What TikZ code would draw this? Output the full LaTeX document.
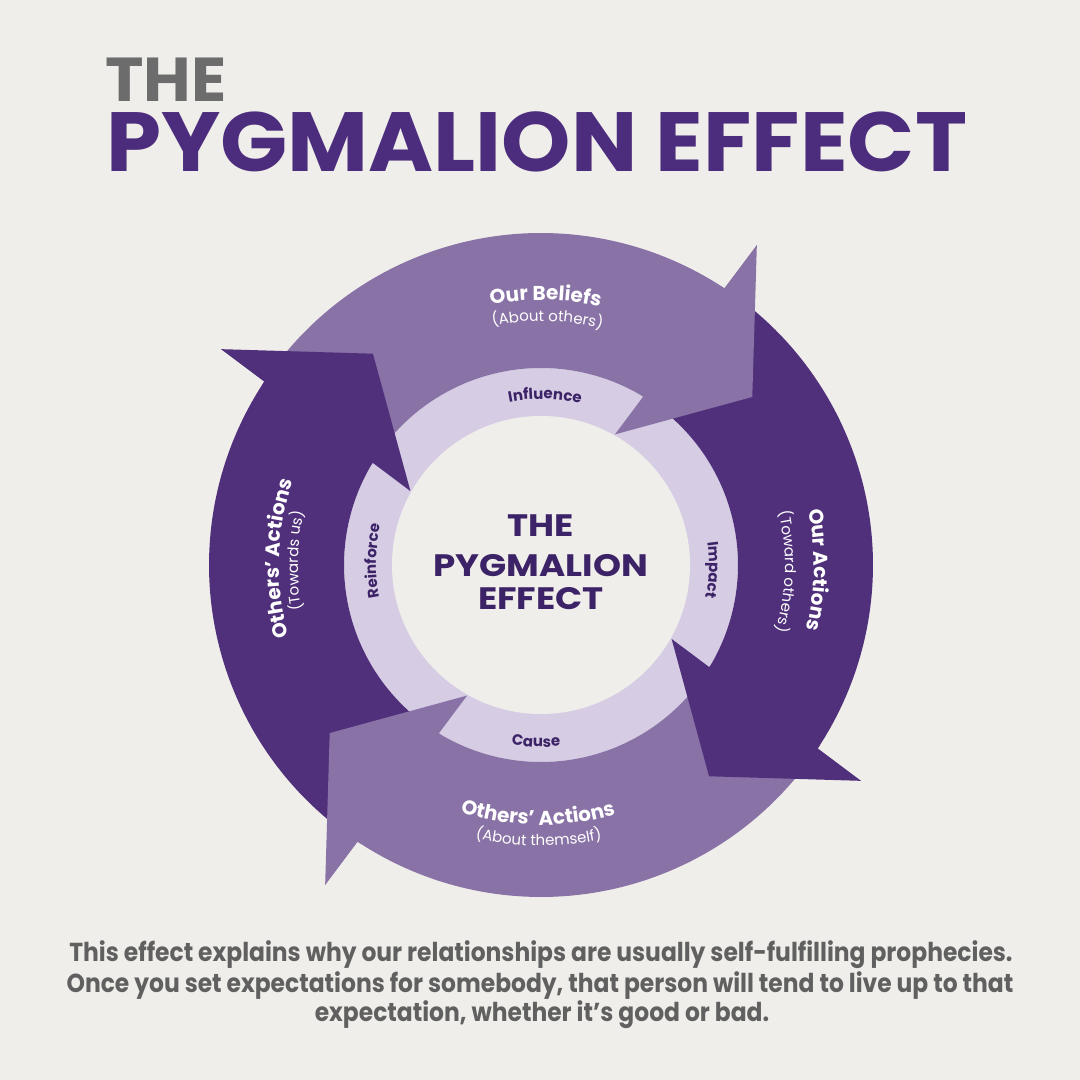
\documentclass[tikz,border=0pt]{standalone}
\usepackage{fontspec}
\setmainfont{Poppins}
\newfontfamily\bodyfont[FakeStretch=0.9]{Poppins}
\newfontfamily\headfont[FakeStretch=1.05]{Poppins}
\newfontfamily\hubfont[FakeStretch=1.15]{Poppins}
\usepackage{tikz}
\usetikzlibrary{decorations.text}
\definecolor{paper}{RGB}{240,238,234}
\definecolor{lightarrow}{RGB}{137,114,166}
\definecolor{darkarrow}{RGB}{80,48,123}
\definecolor{ringfill}{RGB}{214,205,228}
\definecolor{titlepurple}{RGB}{76,45,125}
\definecolor{titlegrey}{RGB}{108,108,108}
\definecolor{labelpurple}{RGB}{60,34,102}
\definecolor{bodygrey}{RGB}{96,96,96}
\newcommand{\armlabel}{\color{white}\bfseries\fontsize{20}{24}\selectfont}
\newcommand{\armnote}{\color{white}\fontsize{15}{18}\selectfont}
\newcommand{\ringlabel}{\color{labelpurple}\bfseries\fontsize{15}{18}\selectfont}
\tikzstyle{headsmall} = [inner sep=0pt, anchor=base west, text=titlegrey, font=\headfont\bfseries\fontsize{62}{64}\selectfont]
\tikzstyle{headbig} = [inner sep=0pt, anchor=base west, text=titlepurple, font=\headfont\bfseries\fontsize{84}{88}\selectfont]
\tikzstyle{centretitle} = [inner sep=0pt, anchor=base, text=labelpurple, font=\hubfont\bfseries\fontsize{31}{33}\selectfont]
\tikzstyle{bodyline} = [inner sep=0pt, anchor=base, text=bodygrey, font=\bodyfont\bfseries\fontsize{26}{30}\selectfont]
\tikzset{curved/.style={decorate, decoration={text along path, text align=center, text={#1}}}}

\begin{document}
\begin{tikzpicture}[x=1pt, y=1pt]
    % Paper
    \fill[paper] (0,0) rectangle (1080,1080);
    \useasboundingbox (0,0) rectangle (1080,1080);

    % Heading
    \node[headsmall] (headthe) at (105,978) {THE};
    \node[headbig] (headmain) at (106,908) {PYGMALION EFFECT};

    \begin{scope}[shift={(541,515)}]
        % Inner ring
        \fill[ringfill] (0,0) circle (197);

        % Arrow bands (front edge tucked under the head)
        \foreach \b/\col in {147.5/darkarrow, 57.5/lightarrow, -32.5/darkarrow, -122.5/lightarrow}
            \fill[\col] ({\b+88.97}:332) arc[start angle=\b+88.97, end angle=\b-1.6, radius=332]
                -- ({\b+0.6}:197) arc[start angle=\b+0.6, end angle=\b+91.24, radius=197] -- cycle;

        % Arrow heads (with a small overlap back into their own band)
        \foreach \b/\col in {147.5/darkarrow, 57.5/lightarrow, -32.5/darkarrow, -122.5/lightarrow}
            \fill[\col] ({\b-1.5}:386) -- ({\b-19}:270) -- ({\b+3}:150) -- ({\b+1.24}:197)
                -- ({\b+1.9}:197) -- ({\b-0.4}:332) -- ({\b-1.03}:332) -- cycle;

        % Centre disc
        \fill[paper] (0,0) circle (149);

        % Centre title
        \node[centretitle] (cthe) at (0,28) {THE};
        \node[centretitle] (cpyg) at (0,-12) {PYGMALION};
        \node[centretitle] (ceff) at (0,-45) {EFFECT};

        % Arm labels
        \path[curved={|\armlabel|Our Beliefs}] (119:265) arc[start angle=119, end angle=59, radius=265];
        \path[curved={|\armnote|(About others)}] (118.5:244) arc[start angle=118.5, end angle=58.5, radius=244];
        \path[curved={|\armlabel|Our Actions}] (29:273) arc[start angle=29, end angle=-31, radius=273];
        \path[curved={|\armnote|(Toward others)}] (28.5:244) arc[start angle=28.5, end angle=-31.5, radius=244];
        \path[curved={|\armlabel|Others’ Actions}] (239.3:260) arc[start angle=239.3, end angle=299.3, radius=260];
        \path[curved={|\armnote|(About themself)}] (239.5:281) arc[start angle=239.5, end angle=299.5, radius=281];
        \path[curved={|\armlabel|Others’ Actions}] (208.5:262) arc[start angle=208.5, end angle=148.5, radius=262];
        \path[curved={|\armnote|(Towards us)}] (209:243) arc[start angle=209, end angle=149, radius=243];

        % Ring labels
        \path[curved={|\ringlabel|Influence}] (118.6:166) arc[start angle=118.6, end angle=58.6, radius=166];
        \path[curved={|\ringlabel|Impact}] (28.3:168) arc[start angle=28.3, end angle=-31.7, radius=168];
        \path[curved={|\ringlabel|Cause}] (238.4:182) arc[start angle=238.4, end angle=298.4, radius=182];
        \path[curved={|\ringlabel|Reinforce}] (208.6:165) arc[start angle=208.6, end angle=148.6, radius=165];
    \end{scope}

    % Footnote
    \node[bodyline] (line1) at (541,118) {This effect explains why our relationships are usually self-fulfilling prophecies.};
    \node[bodyline] (line2) at (540,87) {Once you set expectations for somebody, that person will tend to live up to that};
    \node[bodyline] (line3) at (542,58) {expectation, whether it’s good or bad.};
\end{tikzpicture}
\end{document}
